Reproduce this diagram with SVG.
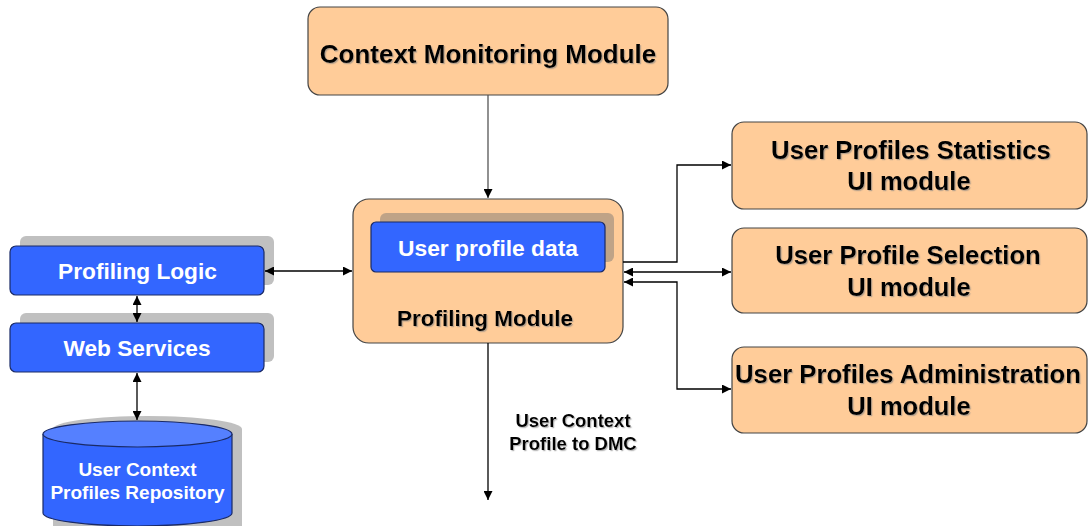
<svg xmlns="http://www.w3.org/2000/svg" width="1088" height="526" viewBox="0 0 1088 526">
<defs>
<marker id="arr" viewBox="0 0 10 10" refX="10" refY="5" markerWidth="9" markerHeight="9" markerUnits="userSpaceOnUse" orient="auto-start-reverse">
<path d="M0,0 L10,5 L0,10 z" fill="#000"/>
</marker>
<filter id="ts" x="-5%" y="-20%" width="110%" height="140%">
<feDropShadow dx="1.2" dy="1.2" stdDeviation="0.4" flood-color="#808080" flood-opacity="0.55"/>
</filter>
</defs>
<style>
.orange{fill:#FFCC99;stroke:#444;stroke-width:1.2}
.blue{fill:#3366FF;stroke:#1a2a66;stroke-width:1.2}
.shadow{fill:#c0c0c0}
.t{font-family:"Liberation Sans",Arial,sans-serif;font-weight:bold;text-anchor:middle}
.dk{fill:#000;filter:url(#ts)}
.wt{fill:#fff}
.conn{fill:none;stroke:#000;stroke-width:1.3}
</style>
<rect width="1088" height="526" fill="#fff"/>

<g id="context-monitoring">
<rect class="orange" x="308" y="7" width="360" height="88" rx="12"/>
<text class="t dk" x="488" y="63" font-size="26">Context Monitoring Module</text>
</g>

<g id="profiling-module">
<rect class="orange" x="353" y="199" width="270" height="144" rx="16"/>
<rect x="380" y="213" width="234" height="49" rx="6" fill="#bfa387"/>
<rect class="blue" x="371" y="222" width="234" height="50" rx="5"/>
<text class="t wt" x="488" y="256" font-size="22.8">User profile data</text>
<text class="t dk" x="485" y="326" font-size="22.5">Profiling Module</text>
</g>

<g id="profiling-logic">
<rect class="shadow" x="20" y="236" width="254" height="49" rx="6"/>
<rect class="blue" x="10" y="246" width="254" height="49" rx="6"/>
<text class="t wt" x="137.5" y="279" font-size="22.7">Profiling Logic</text>
</g>

<g id="web-services">
<rect class="shadow" x="20" y="313" width="254" height="49" rx="6"/>
<rect class="blue" x="10" y="323" width="254" height="49" rx="6"/>
<text class="t wt" x="137" y="356" font-size="22.7">Web Services</text>
</g>

<g id="repository">
<path class="shadow" d="M53,429 A94.5,13 0 0 1 242,429 V530 H53 Z"/>
<path class="blue" d="M43,434 V513 A94.5,13 0 0 0 232,513 V434"/>
<ellipse cx="137.5" cy="434" rx="94.5" ry="13" fill="#5580FF" stroke="#1a2a66" stroke-width="1.2"/>
<text class="t wt" x="137.5" y="476" font-size="19">User Context</text>
<text class="t wt" x="137.5" y="499" font-size="19">Profiles Repository</text>
</g>

<g id="stats-ui">
<rect class="orange" x="732" y="122" width="355" height="87" rx="12"/>
<text class="t dk" x="911" y="159" font-size="25.7">User Profiles Statistics</text>
<text class="t dk" x="909" y="190" font-size="25.5">UI module</text>
</g>

<g id="selection-ui">
<rect class="orange" x="732" y="228" width="355" height="85" rx="12"/>
<text class="t dk" x="908" y="264" font-size="25.7">User Profile Selection</text>
<text class="t dk" x="909" y="296" font-size="25.5">UI module</text>
</g>

<g id="admin-ui">
<rect class="orange" x="732" y="347" width="355" height="86" rx="12"/>
<text class="t dk" x="908" y="383" font-size="25.7">User Profiles Administration</text>
<text class="t dk" x="909" y="415" font-size="25.5">UI module</text>
</g>

<g id="dmc-label">
<text class="t dk" x="573" y="427" font-size="18.5">User Context</text>
<text class="t dk" x="573" y="450" font-size="18.5">Profile to DMC</text>
</g>

<g id="connectors">
<path class="conn" style="stroke:#555" d="M488,95 V198" marker-end="url(#arr)"/>
<path class="conn" d="M265,271 H352" marker-start="url(#arr)" marker-end="url(#arr)"/>
<path class="conn" d="M137,296 V322" marker-start="url(#arr)" marker-end="url(#arr)"/>
<path class="conn" d="M137,373 V420" marker-start="url(#arr)" marker-end="url(#arr)"/>
<path class="conn" d="M623,262 H677 V165 H731" marker-end="url(#arr)"/>
<path class="conn" d="M624,272 H731" marker-start="url(#arr)" marker-end="url(#arr)"/>
<path class="conn" d="M624,282 H677 V389 H731" marker-start="url(#arr)" marker-end="url(#arr)"/>
<path class="conn" d="M488,343 V500" marker-end="url(#arr)"/>
</g>
</svg>
